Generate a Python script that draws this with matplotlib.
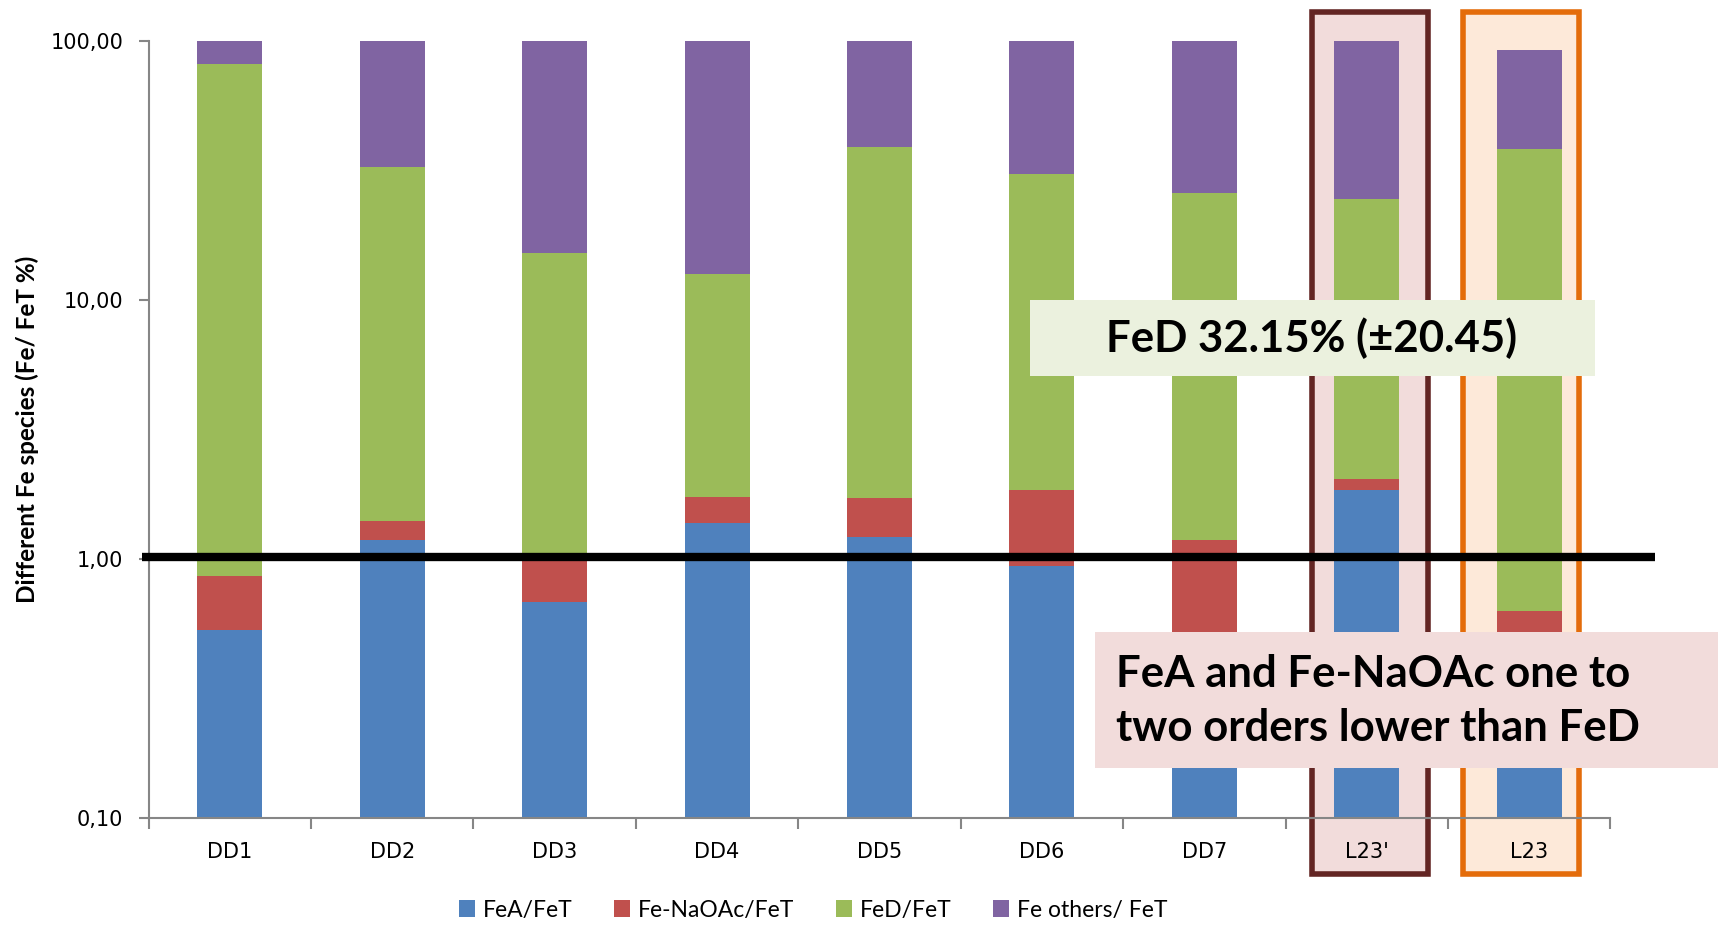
import matplotlib
matplotlib.use("Agg")
import matplotlib.pyplot as plt
from matplotlib.patches import Rectangle
from matplotlib.ticker import NullLocator, FixedLocator
from matplotlib.transforms import blended_transform_factory
import numpy as np

# Iron speciation per sample (% of total Fe)
categories = ["DD1", "DD2", "DD3", "DD4", "DD5", "DD6", "DD7", "L23'", "L23"]
fea = [0.53, 1.19, 0.68, 1.38, 1.22, 0.94, 0.45, 1.85, 0.40]
fe_naoac = [0.33, 0.21, 0.35, 0.35, 0.50, 0.91, 0.74, 0.19, 0.23]
fed = [81.0, 31.4, 14.2, 10.9, 37.2, 28.9, 24.7, 22.5, 37.6]
fe_others = [18.1, 67.2, 84.8, 87.4, 61.1, 69.3, 74.1, 75.5, 54.7]

series_names = ["FeA/FeT", "Fe-NaOAc/FeT", "FeD/FeT", "Fe others/ FeT"]
series_colors = ["#4F81BD", "#C0504D", "#9BBB59", "#8064A2"]
ytick_values = [0.1, 1, 10, 100]
ytick_labels = ["0,10", "1,00", "10,00", "100,00"]
threshold = 1.02

W, H = 1718, 926
fig = plt.figure(figsize=(W / 100, H / 100), dpi=100)
ax = fig.add_axes([148.5 / W, 1 - 818 / H, (1610.5 - 148.5) / W, (818 - 41.3) / H])
ax.patch.set_visible(False)
ax.set_yscale("log")
ax.set_ylim(0.1, 100)
ax.set_xlim(-0.5, len(categories) - 0.5)

x = np.arange(len(categories))
floor = ax.get_ylim()[0]
bottom = np.full(len(x), floor)
cum = np.zeros(len(x))
handles = []
for vals, name, col in zip([fea, fe_naoac, fed, fe_others], series_names, series_colors):
    cum = cum + np.asarray(vals)
    b = ax.bar(x, cum - bottom, bottom=bottom, width=0.4, color=col, label=name, zorder=2)
    handles.append(b)
    bottom = cum.copy()

# highlighted samples
trans = blended_transform_factory(ax.transData, fig.transFigure)
for center, edge, face in [(7.02, "#632523", "#F2DCDB"), (7.95, "#E46C0A", "#FDE9D9")]:
    ax.add_patch(Rectangle((center - 0.358, 1 - 874.2 / H), 0.716, (874.2 - 11.7) / H,
                           transform=trans, facecolor=face, edgecolor=edge, lw=4,
                           clip_on=False, zorder=1))

# reference line at 1 %
ax.plot([-0.543, 8.776], [threshold, threshold], color="black", lw=6,
        solid_capstyle="butt", clip_on=False, zorder=5)

# axes styling
for s in ["top", "right"]:
    ax.spines[s].set_visible(False)
for s in ["left", "bottom"]:
    ax.spines[s].set_color("#868686")
    ax.spines[s].set_linewidth(1.5)

ax.yaxis.set_major_locator(FixedLocator(ytick_values))
ax.set_yticklabels(ytick_labels)
ax.yaxis.set_minor_locator(NullLocator())
ax.tick_params(axis="y", which="major", length=7, width=1.5, color="#868686",
               labelsize=15, pad=11)

ax.xaxis.set_major_locator(FixedLocator(np.arange(len(categories) + 1) - 0.5))
ax.xaxis.set_minor_locator(FixedLocator(x))
ax.set_xticklabels([], minor=False)
ax.set_xticklabels(categories, minor=True)
ax.tick_params(axis="x", which="major", length=8, width=1.5, color="#868686")
ax.tick_params(axis="x", which="minor", length=0, labelsize=15, pad=17)

fig.text(27 / W, 1 - 429.5 / H, "Different Fe species (Fe/ FeT %)", rotation=90,
         ha="center", va="center", fontsize=17.5, fontweight="bold", family="Lato")

fig.legend(handles=handles, labels=series_names, loc="center",
           bbox_to_anchor=(813 / W, 1 - 910 / H), ncol=4, frameon=False,
           prop={"family": "Lato", "size": 16.5}, handlelength=0.7, handleheight=0.7,
           handletextpad=0.35, columnspacing=1.8)

# callout boxes
fig.patches.append(Rectangle((1030 / W, 1 - 376 / H), 565 / W, 76.5 / H,
                             transform=fig.transFigure, facecolor="#EBF1DE",
                             edgecolor="none", zorder=10))
fig.text(1312 / W, 1 - 338 / H, "FeD 32.15% (±20.45)", ha="center", va="center",
         fontsize=31.5, fontweight="bold", family="Lato", zorder=11)

fig.patches.append(Rectangle((1095 / W, 1 - 768 / H), 623 / W, 136 / H,
                             transform=fig.transFigure, facecolor="#F2DCDB",
                             edgecolor="none", zorder=10))
fig.text(1116 / W, 1 - 701 / H, "FeA and Fe-NaOAc one to\ntwo orders lower than FeD",
         ha="left", va="center", fontsize=31.5, fontweight="bold", family="Lato",
         linespacing=1.4, zorder=11)

fig.savefig("out.png", dpi=100)
